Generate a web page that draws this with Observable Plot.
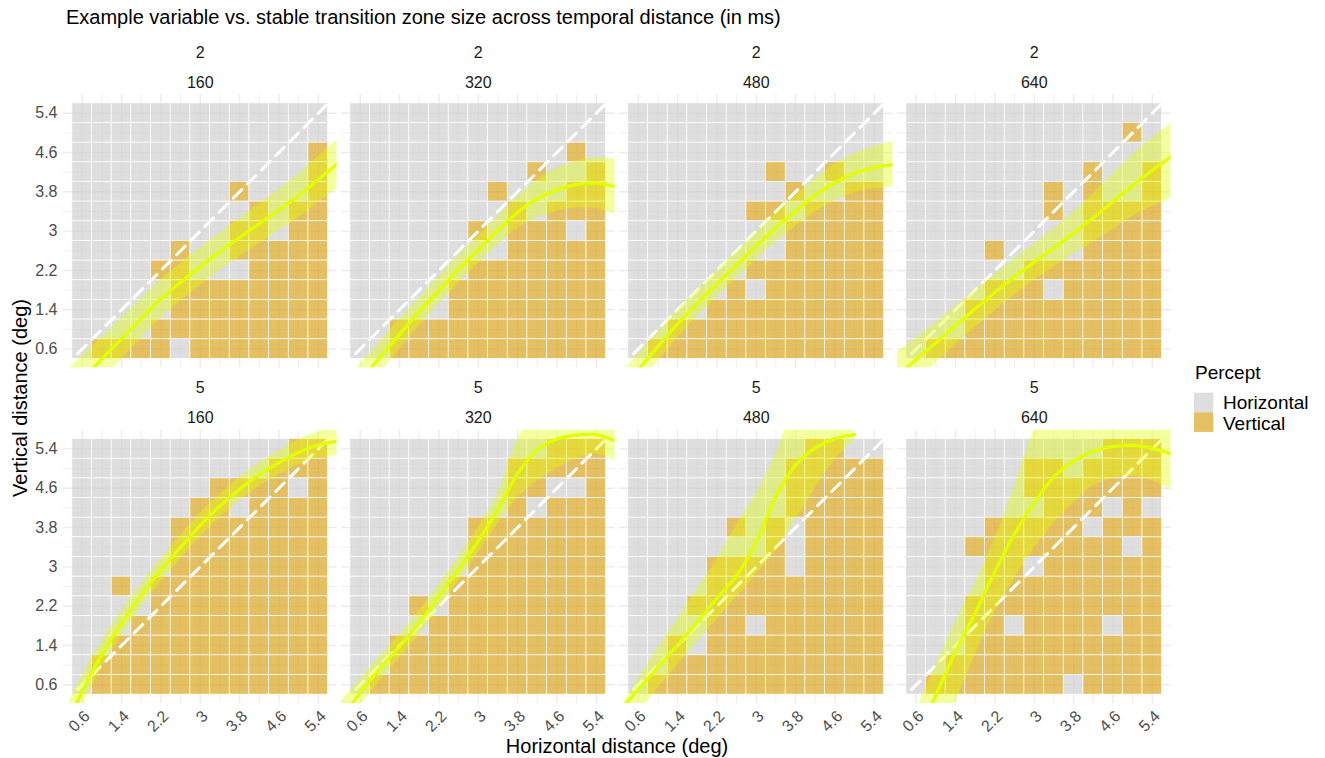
<!DOCTYPE html>
<html><head><meta charset="utf-8">
<script src="https://cdn.jsdelivr.net/npm/d3@7"></script>
<script src="https://cdn.jsdelivr.net/npm/@observablehq/plot@0.6"></script>
<style>
body{margin:0;background:#fff;font-family:"Liberation Sans",Arial,sans-serif;}
#wrap{position:relative;width:1325px;height:758px;overflow:hidden;}
#chart,#overlay{position:absolute;left:0;top:0;}
#overlay{pointer-events:none;}
</style></head>
<body><div id="wrap"><div id="chart"></div><svg id="overlay" width="1325" height="758"></svg></div>
<script>
// ---- categories ----
const sizes = [2, 5];
const times = [160, 320, 480, 640];
const percepts = ["Horizontal", "Vertical"];
const perceptColors = ["#d0d0d0", "#daa520"];
const cellCenters = [0.6, 1.0, 1.4, 1.8, 2.2, 2.6, 3.0, 3.4, 3.8, 4.2, 4.6, 5.0, 5.4];
const majorTicks = [0.6, 1.4, 2.2, 3, 3.8, 4.6, 5.4];
const minorTicks = [1.0, 1.8, 2.6, 3.4, 4.2, 5.0];

// ---- tile grids (rows from top y=5.4 to bottom y=0.6; 1 = Vertical) ----
const grid_2_160 = ["0000000000000","0000000000000","0000000000001","0000000000001","0000000010001","0000000001011","0000000011011","0000010011111","0000110001111","0000011111111","0000011111111","0000111111111","0111101111111"];
const grid_2_320 = ["0000000000000","0000000000000","0000000000010","0000000001001","0000000100011","0000000010111","0000001011101","0000000011111","0000001111111","0000011111111","0000011111111","0011111111111","0011111111111"];
const grid_2_480 = ["0000000000000","0000000000000","0000000000000","0000000100100","0000000010011","0000001101111","0000000011111","0000000011111","0000001111111","0000010111111","0000111111111","0011111111111","0111111111111"];
const grid_2_640 = ["0000000000000","0000000000010","0000000000000","0000000001001","0000000101001","0000000101111","0000000001111","0000100001111","0000001111111","0000111011111","0001111111111","0001111111111","0111111111111"];
const grid_5_160 = ["0000000000011","0000000000111","0000000111101","0000001101111","0000011111111","0000011111111","0000011111111","0010111111111","0000111111111","0001111111111","0011111111111","0111111111111","0111111111111"];
const grid_5_320 = ["0000000000111","0000000011111","0000000011001","0000000010111","0000001111111","0000001111111","0000001111111","0000011111111","0001011111111","0000111111111","0011111111111","0011111111111","0111111111111"];
const grid_5_480 = ["0000000001100","0000000011111","0000000011111","0000000011111","0000010101111","0000000101111","0000111101111","0000111111111","0001111111111","0000110111111","0010111111111","0011111111111","0111111111111"];
const grid_5_640 = ["0000000000111","0000001101111","0000001111111","0000000111010","0000111110111","0001111111101","0000110111111","0000111111111","0001111111111","0001101111011","0001111111111","0011111111111","0111111101111"];

// ---- fitted curves (x grid, fit, lower, upper) ----
const fitX = [0.2, 0.6, 1.0, 1.4, 1.8, 2.2, 2.6, 3.0, 3.4, 3.8, 4.2, 4.6, 5.0, 5.4, 5.8];
const fit_2_160 = [-0.42,-0.01,0.40,0.81,1.22,1.62,1.96,2.28,2.58,2.87,3.15,3.43,3.72,4.05,4.38];
const lo_2_160  = [-0.92,-0.48,-0.04,0.39,0.82,1.23,1.58,1.90,2.20,2.48,2.75,3.01,3.28,3.58,3.88];
const hi_2_160  = [0.08,0.46,0.84,1.23,1.62,2.01,2.34,2.66,2.96,3.26,3.55,3.85,4.16,4.52,4.88];
const fit_2_320 = [-0.52,-0.05,0.43,0.90,1.36,1.79,2.22,2.62,3.01,3.38,3.66,3.84,3.95,3.98,3.90];
const lo_2_320  = [-0.92,-0.40,0.11,0.60,1.08,1.51,1.94,2.34,2.72,3.06,3.28,3.40,3.47,3.46,3.34];
const hi_2_320  = [-0.12,0.30,0.75,1.20,1.64,2.07,2.50,2.90,3.30,3.70,4.04,4.28,4.43,4.50,4.46];
const fit_2_480 = [-0.30,0.18,0.65,1.11,1.53,1.93,2.31,2.70,3.07,3.41,3.73,3.99,4.18,4.29,4.36];
const lo_2_480  = [-0.65,-0.14,0.35,0.83,1.26,1.66,2.04,2.42,2.78,3.10,3.39,3.62,3.78,3.86,3.90];
const hi_2_480  = [0.05,0.50,0.95,1.39,1.80,2.20,2.58,2.98,3.36,3.72,4.07,4.36,4.58,4.72,4.82];
const fit_2_640 = [0.05,0.39,0.73,1.08,1.42,1.75,2.07,2.37,2.66,2.96,3.27,3.60,3.93,4.24,4.53];
const lo_2_640  = [-0.43,-0.05,0.32,0.69,1.04,1.38,1.70,2.00,2.27,2.53,2.78,3.04,3.30,3.50,3.68];
const hi_2_640  = [0.53,0.83,1.14,1.47,1.80,2.12,2.44,2.74,3.05,3.39,3.76,4.16,4.56,4.90,5.20];
const fit_5_160 = [-0.45,0.47,1.22,1.85,2.42,2.93,3.40,3.85,4.24,4.58,4.88,5.12,5.33,5.48,5.56];
const lo_5_160  = [-0.85,0.15,0.95,1.60,2.18,2.69,3.16,3.61,4.00,4.34,4.64,4.88,5.08,5.21,5.26];
const hi_5_160  = [-0.05,0.79,1.49,2.10,2.66,3.17,3.64,4.09,4.48,4.82,5.12,5.36,5.58,5.75,5.86];
const fit_5_320 = [-0.10,0.44,0.93,1.38,1.86,2.40,2.95,3.53,4.17,4.90,5.38,5.60,5.68,5.69,5.55];
const lo_5_320  = [-0.45,0.16,0.68,1.14,1.62,2.16,2.71,3.28,3.88,4.40,4.75,5.00,5.20,5.30,5.15];
const hi_5_320  = [0.25,0.72,1.18,1.62,2.10,2.64,3.20,3.80,4.50,5.60,6.20,6.20,6.20,6.20,6.20];
const fit_5_480 = [0.05,0.50,0.96,1.41,1.87,2.36,2.82,3.50,4.43,5.07,5.42,5.61,5.69,null,null];
const lo_5_480  = [-0.55,0.00,0.53,1.00,1.47,1.93,2.38,2.84,3.33,3.95,4.60,5.18,5.58,null,null];
const hi_5_480  = [0.07,0.71,1.35,1.94,2.55,3.15,3.85,4.50,5.30,6.20,6.20,6.20,6.20,null,null];
const fit_5_640 = [-1.40,-0.50,0.39,1.27,2.06,2.91,3.67,4.30,4.83,5.15,5.35,5.45,5.47,5.41,5.29];
const lo_5_640  = [-2.50,-1.70,-0.80,0.24,1.20,2.08,2.77,3.38,3.88,4.30,4.65,4.80,4.84,4.75,4.55];
const hi_5_640  = [-0.80,0.10,0.99,1.88,2.68,3.57,4.65,5.78,6.50,6.50,6.50,6.50,6.50,6.50,6.50];

const identityLine = [0.22, 5.78];

// ---- assemble tables ----
const panels = [
  {size:2,time:160,grid:grid_2_160,fit:fit_2_160,lo:lo_2_160,hi:hi_2_160},
  {size:2,time:320,grid:grid_2_320,fit:fit_2_320,lo:lo_2_320,hi:hi_2_320},
  {size:2,time:480,grid:grid_2_480,fit:fit_2_480,lo:lo_2_480,hi:hi_2_480},
  {size:2,time:640,grid:grid_2_640,fit:fit_2_640,lo:lo_2_640,hi:hi_2_640},
  {size:5,time:160,grid:grid_5_160,fit:fit_5_160,lo:lo_5_160,hi:hi_5_160},
  {size:5,time:320,grid:grid_5_320,fit:fit_5_320,lo:lo_5_320,hi:hi_5_320},
  {size:5,time:480,grid:grid_5_480,fit:fit_5_480,lo:lo_5_480,hi:hi_5_480},
  {size:5,time:640,grid:grid_5_640,fit:fit_5_640,lo:lo_5_640,hi:hi_5_640}
];
const tiles = [];
const curves = [];
const headers = [];
const n = cellCenters.length;
for (const p of panels) {
  p.grid.forEach((row, r) => {
    const yc = cellCenters[n - 1 - r];
    [...row].forEach((c, k) => tiles.push({size:p.size, time:p.time, x:cellCenters[k], y:yc, percept: c === "1" ? percepts[1] : percepts[0]}));
  });
  fitX.forEach((x, i) => curves.push({size:p.size, time:p.time, x, fit:p.fit[i], lo:p.lo[i], hi:p.hi[i]}));
  headers.push({size:p.size, time:p.time, top:String(p.size), bottom:String(p.time)});
}
const diag = identityLine.map(v => ({x:v, y:v}));
const half = 0.2;
const curveYellow = "#e2ff00";

const chart = Plot.plot({
  width: 1325, height: 758,
  marginLeft: 63, marginRight: 154.5, marginTop: 94, marginBottom: 55,
  style: {fontFamily: "Liberation Sans, Arial, sans-serif", fontSize: "16px", color: "#4d4d4d", background: "transparent"},
  x: {domain: [0.22, 5.78]},
  y: {domain: [0.22, 5.78]},
  fx: {domain: times, paddingInner: 0.0162, paddingOuter: 0, round: false, axis: null},
  fy: {domain: sizes, paddingInner: 0.186, paddingOuter: 0, round: false, axis: null},
  color: {domain: percepts, range: perceptColors},
  marks: [
    Plot.gridX(minorTicks, {stroke: "#ebebeb", strokeOpacity: 1, strokeWidth: 0.8}),
    Plot.gridY(minorTicks, {stroke: "#ebebeb", strokeOpacity: 1, strokeWidth: 0.8}),
    Plot.gridX(majorTicks, {stroke: "#ebebeb", strokeOpacity: 1, strokeWidth: 1.4}),
    Plot.gridY(majorTicks, {stroke: "#ebebeb", strokeOpacity: 1, strokeWidth: 1.4}),
    Plot.rect(tiles, {x1: d => d.x - half, x2: d => d.x + half, y1: d => d.y - half, y2: d => d.y + half,
      fill: "percept", fillOpacity: 0.7, stroke: "white", strokeWidth: 0.7, fx: "time", fy: "size"}),
    Plot.line(diag, {x: "x", y: "y", stroke: "white", strokeWidth: 3, strokeDasharray: "12,8", clip: true}),
    Plot.areaY(curves, {x: "x", y1: "lo", y2: "hi", fx: "time", fy: "size", fill: curveYellow, fillOpacity: 0.38, curve: "catmull-rom", clip: true}),
    Plot.line(curves, {x: "x", y: "fit", fx: "time", fy: "size", stroke: curveYellow, strokeWidth: 3.2, curve: "catmull-rom", clip: true}),
    Plot.axisX(majorTicks, {tickRotate: -45, tickSize: 0, tickPadding: 4, dx: 5, dy: 6, label: null, fontSize: 16, tickFormat: d => String(d)}),
    Plot.axisY(majorTicks, {tickSize: 0, tickPadding: 6, label: null, fontSize: 16, tickFormat: d => String(d)}),
    Plot.text(headers, {fx: "time", fy: "size", text: "top", frameAnchor: "top", lineAnchor: "bottom", dy: -37, fill: "#1a1a1a", fontSize: 16}),
    Plot.text(headers, {fx: "time", fy: "size", text: "bottom", frameAnchor: "top", lineAnchor: "bottom", dy: -7, fill: "#1a1a1a", fontSize: 16})
  ]
});
document.getElementById("chart").appendChild(chart);

// ---- title, axis titles, legend ----
const ov = d3.select("#overlay").style("font-family", "Liberation Sans, Arial, sans-serif");
ov.append("text").attr("x", 66).attr("y", 24).attr("font-size", 20).attr("fill", "#000")
  .text("Example variable vs. stable transition zone size across temporal distance (in ms)");
ov.append("text").attr("x", 617).attr("y", 753).attr("text-anchor", "middle").attr("font-size", 20).attr("fill", "#000")
  .text("Horizontal distance (deg)");
ov.append("text").attr("transform", "translate(27,398) rotate(-90)").attr("text-anchor", "middle").attr("font-size", 20).attr("fill", "#000")
  .text("Vertical distance (deg)");
ov.append("text").attr("x", 1195).attr("y", 379).attr("font-size", 19).attr("fill", "#000").text("Percept");
percepts.forEach((p, i) => {
  ov.append("rect").attr("x", 1194).attr("y", 392.7 + i * 19.6).attr("width", 19.3).attr("height", 19.6)
    .attr("fill", perceptColors[i]).attr("fill-opacity", 0.7);
  ov.append("text").attr("x", 1223).attr("y", 409 + i * 21).attr("font-size", 19).attr("fill", "#000").text(p);
});
</script></body></html>
